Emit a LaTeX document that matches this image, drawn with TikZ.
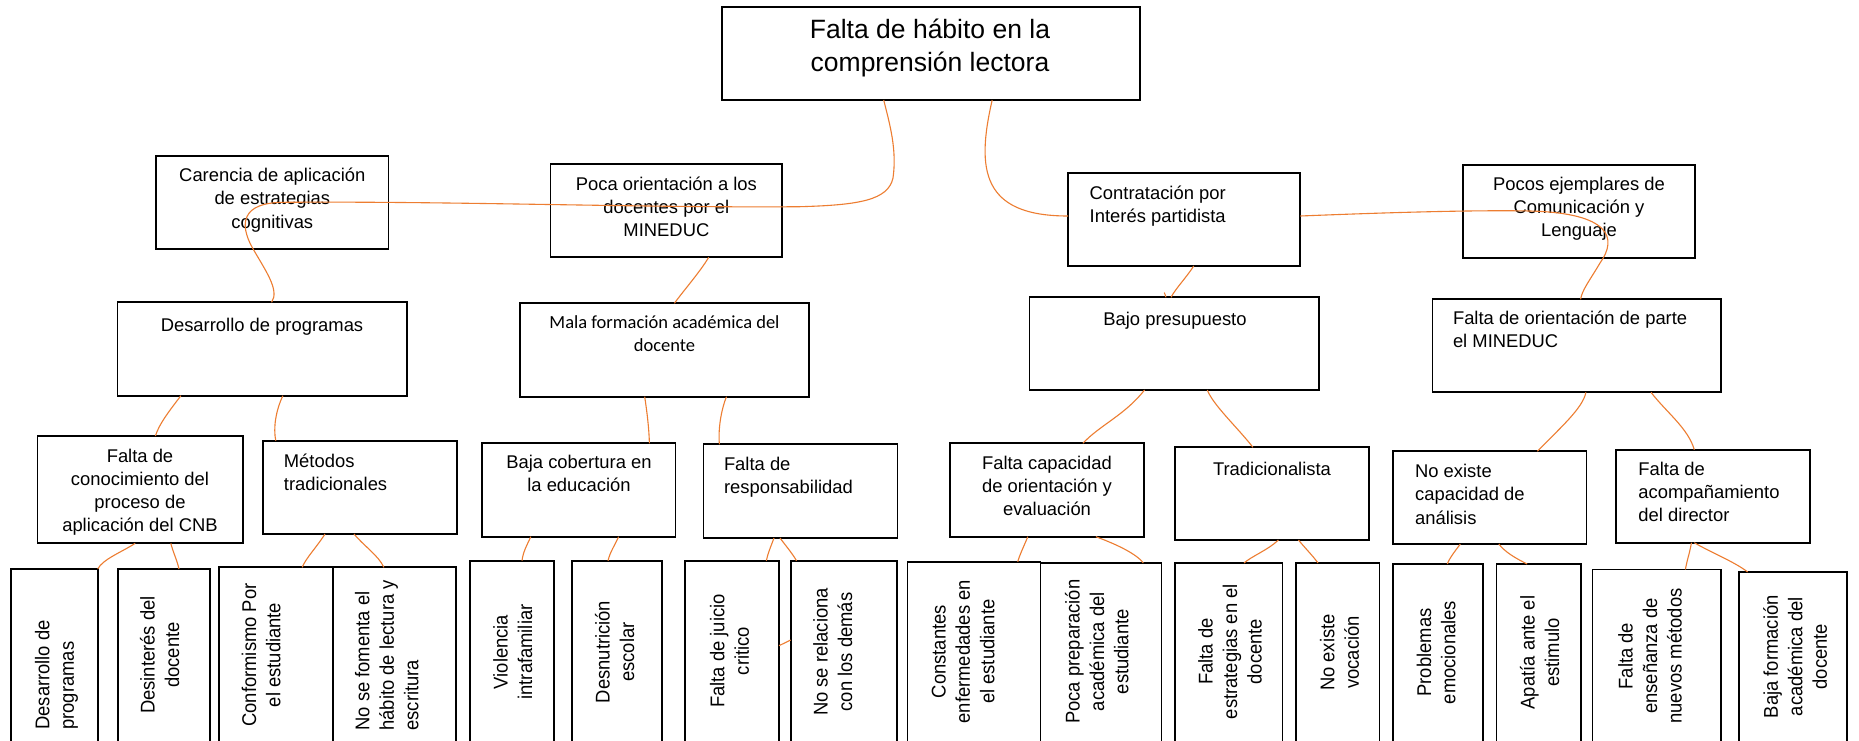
\documentclass[tikz,border=0pt]{standalone}
\usepackage{fontspec}
\setmainfont{Liberation Sans}
\newfontfamily\calibrifont{Carlito}
\usetikzlibrary{fit,calc}
\definecolor{conncol}{RGB}{237,125,49}
\begin{document}
\begin{tikzpicture}[x=0.5pt,y=-0.5pt,
 box/.style={draw=black, line width=0.9pt, inner sep=0pt, outer sep=0pt, fill=white},
 conn/.style={draw=conncol, line width=0.55pt},
 txt/.style={inner sep=0pt, align=center, font=\fontsize{9.2}{11.65}\selectfont, execute at begin node=\strut},
 txtl/.style={txt, align=left, anchor=north west},
 txtc/.style={txt, anchor=north},
 titletxt/.style={inner sep=0pt, align=center, anchor=north, font=\fontsize{13.25}{16.65}\selectfont, execute at begin node=\strut},
 rot/.style={inner sep=0pt, align=center, anchor=north, rotate=90, yscale=1.08, font=\fontsize{9.2}{11.3}\selectfont, execute at begin node=\strut},
 rotl/.style={rot, align=left, anchor=north west},
]
\path[use as bounding box, fill=white] (0,0) rectangle (1859,740);
\clip (0,0) rectangle (1859,740);

% top level
\node[box, fit={(722,7) (1140,100)}] (main) {};
\node[box, fit={(156,156) (388.5,249)}] (car) {};
\node[box, fit={(550.4,164) (782.3,257.3)}] (poca) {};
\node[box, fit={(1068,172.7) (1300.3,266)}] (contr) {};
\node[box, fit={(1462.7,164.7) (1695,258)}] (pocos) {};
% second level
\node[box, fit={(117.4,302.3) (406.9,395.7)}] (desa) {};
\node[box, fit={(519.6,303.3) (809,396.7)}] (mala) {};
\node[box, fit={(1029.5,297.3) (1319.3,390)}] (bajo) {};
\node[box, fit={(1432.4,299.3) (1721,392.3)}] (orient) {};
% third level
\node[box, fit={(37.4,436) (242.6,543.3)}] (conoc) {};
\node[box, fit={(262.7,440.7) (456.7,534)}] (metod) {};
\node[box, fit={(482.2,443.3) (675.5,536.7)}] (cober) {};
\node[box, fit={(703.4,444.3) (897.4,538)}] (resp) {};
\node[box, fit={(950,443.3) (1143.9,536.7)}] (capac) {};
\node[box, fit={(1174.7,447.3) (1369,540)}] (trad) {};
\node[box, fit={(1392.7,451.3) (1586.5,544)}] (noex) {};
\node[box, fit={(1616.1,449.7) (1809.9,542.7)}] (acomp) {};
% bottom level
\node[box, fit={(11,569) (97.7,760)}] (b1) {};
\node[box, fit={(117.7,569) (210,760)}] (b2) {};
\node[box, fit={(219,567.3) (332.7,760)}] (b3) {};
\node[box, fit={(332.7,567.3) (456,760)}] (b4) {};
\node[box, fit={(470,560.7) (554,760)}] (b5) {};
\node[box, fit={(572,560.7) (662,760)}] (b6) {};
\node[box, fit={(685.3,560.7) (779,760)}] (b7) {};
\node[box, fit={(790.7,560.7) (897,760)}] (b8) {};
\node[box, fit={(907.5,561.7) (1040.5,760)}] (b9) {};
\node[box, fit={(1040.5,563) (1161.5,760)}] (b10) {};
\node[box, fit={(1175,563) (1282.5,760)}] (b11) {};
\node[box, fit={(1296,563) (1379.5,760)}] (b12) {};
\node[box, fit={(1393,564) (1482.7,760)}] (b13) {};
\node[box, fit={(1496.5,564) (1580.7,760)}] (b14) {};
\node[box, fit={(1592.5,569.5) (1721,760)}] (b15) {};
\node[box, fit={(1738.7,572) (1847,760)}] (b16) {};

% texts
\node[titletxt] (tmain) at (930,18.4) {Falta de hábito en la\\comprensión lectora};
\node[txtc] (tcar) at (272.3,167.7) {Carencia de aplicación\\de estrategias\\cognitivas};
\node[txtc] (tpoca) at (666.4,176.4) {Poca orientación a los\\docentes por el\\MINEDUC};
\node[txtl] (tcontr) at (1089.3,185.4) {Contratación por\\Interés partidista};
\node[txtc] (tpocos) at (1579,176.4) {Pocos ejemplares de\\Comunicación y\\Lenguaje};
\node[txtc] (tdesa) at (262,314.4) {Desarrollo de programas};
\node[txtc, font=\calibrifont\fontsize{9.25}{11.65}\selectfont] (tmala) at (664.5,315.4) {Mala formación académica del\\docente};
\node[txtc] (tbajo) at (1175,309.2) {Bajo presupuesto};
\node[txtl] (torient) at (1452.6,310.4) {Falta de orientación de parte\\el MINEDUC};
\node[txtc, font=\fontsize{9.2}{11.4}\selectfont] (tconoc) at (140,449) {Falta de\\conocimiento del\\proceso de\\aplicación del CNB};
\node[txtl] (tmetod) at (283.5,453.7) {Métodos\\tradicionales};
\node[txtc] (tcober) at (579,454.7) {Baja cobertura en\\la educación};
\node[txtl] (tresp) at (723.6,456.4) {Falta de\\responsabilidad};
\node[txtc] (tcapac) at (1047,455.4) {Falta capacidad\\de orientación y\\evaluación};
\node[txtc] (ttrad) at (1272,459.2) {Tradicionalista};
\node[txtl] (tnoex) at (1414.7,463.7) {No existe\\capacidad de\\análisis};
\node[txtl] (tacomp) at (1638,461.4) {Falta de\\acompañamiento\\del director};

\node[rotl] (t1) at (34.6,730) {Desarrollo de\\programas};
\node[rot] (t2) at (139.6,655) {Desinterés del\\docente};
\node[rot] (t3) at (241.2,655) {Conformismo Por\\el estudiante};
\node[rotl] (t4) at (354.6,731) {No se fomenta el\\hábito de lectura y\\escritura};
\node[rot] (t5) at (492.9,652) {Violencia\\intrafamiliar};
\node[rot] (t6) at (594.6,652) {Desnutrición\\escolar};
\node[rot] (t7) at (709.6,651) {Falta de juicio\\critico};
\node[rot] (t8) at (812.9,652) {No se relaciona\\con los demás};
\node[rot] (t9) at (931.2,651.7) {Constantes\\enfermedades en\\el estudiante};
\node[rot] (t10) at (1064.6,651.7) {Poca preparación\\académica del\\estudiante};
\node[rot] (t11) at (1197.9,651.7) {Falta de\\estrategias en el\\docente};
\node[rot] (t12) at (1319.6,652.5) {No existe\\vocación};
\node[rot] (t13) at (1416.2,652.5) {Problemas\\emocionales};
\node[rot] (t14) at (1519.6,652.5) {Apatía ante el\\estimulo};
\node[rot] (t15) at (1617.9,656) {Falta de\\enseñanza de\\nuevos métodos};
\node[rot] (t16) at (1762.9,656.7) {Baja formación\\académica del\\docente};

% connectors
\draw[conn] ($(main.south west)+(161.7,0)$) .. controls (890,125) and (897,150) .. (893,178)
  .. controls (888,200) and (860,205) .. (800,206.7)
  .. controls (650,208) and (450,201) .. (285,202.3)
  .. controls (240,202) and (240,225) .. (252,247)
  .. controls (265,270) and (280,290) .. ($(desa.north west)+(154.2,0)$);
\draw[conn] ($(poca.south west)+(158.3,0)$) .. controls (700,272) and (684,290) .. ($(mala.north west)+(154.8,0)$);
\draw[conn] ($(main.south west)+(270.2,0)$) .. controls (976,170) and (982,216) .. ($(contr.north west)+(0,43.3)$);
\draw[conn] ($(contr.north east)+(0,43.3)$) .. controls (1400,212) and (1480,210) .. (1530,211)
  .. controls (1610,213) and (1618,238) .. (1600,263)
  .. controls (1590,280) and (1582,290) .. ($(orient.north west)+(148.2,0)$);
\draw[conn] ($(contr.south west)+(125.7,0)$) .. controls (1186,278) and (1176,288) .. ($(bajo.north west)+(141.5,0)$);
\coordinate (tk) at (1164.3,292.5);
\draw[conn] (tk) -- ($(bajo.north west)+(136.5,0)$);

\draw[conn] ($(desa.south west)+(63.5,0)$) .. controls (170,410) and (159,424) .. ($(conoc.north west)+(118,0)$);
\draw[conn] ($(desa.south west)+(165.5,0)$) .. controls (276,410) and (273,428) .. ($(metod.north west)+(13.1,0)$);
\draw[conn] ($(mala.south west)+(125.1,0)$) .. controls (647,412) and (649,428) .. ($(cober.north west)+(167.2,0)$);
\draw[conn] ($(mala.south west)+(206.9,0)$) .. controls (721,410) and (718,430) .. ($(resp.north west)+(16,0)$);
\draw[conn] ($(bajo.south west)+(115,0)$) .. controls (1125,415) and (1100,425) .. ($(capac.north west)+(132.9,0)$);
\draw[conn] ($(bajo.south west)+(177.8,0)$) .. controls (1213,405) and (1238,428) .. ($(trad.north west)+(78.2,0)$);
\draw[conn] ($(orient.south west)+(153.5,0)$) .. controls (1583,408) and (1560,428) .. ($(noex.north west)+(144.6,0)$);
\draw[conn] ($(orient.south west)+(218.6,0)$) .. controls (1666,412) and (1688,428) .. ($(acomp.north west)+(78.2,0)$);

\draw[conn] ($(conoc.south west)+(97.8,0)$) .. controls (122,552) and (103,559) .. (b1.north east);
\draw[conn] ($(conoc.south west)+(133.4,0)$) .. controls (173,552) and (177,560) .. ($(b2.north west)+(61.3,0)$);
\draw[conn] ($(metod.south west)+(62.3,0)$) .. controls (316,548) and (306,558) .. ($(b3.north west)+(83.2,0)$);
\draw[conn] ($(metod.south west)+(91.3,0)$) .. controls (364,546) and (378,555) .. ($(b4.north west)+(51.2,0)$);
\draw[conn] ($(cober.south west)+(48.6,0)$) .. controls (527,545) and (523,552) .. ($(b5.north west)+(52,0)$);
\draw[conn] ($(cober.south west)+(136.4,0)$) .. controls (615,545) and (610,552) .. ($(b6.north west)+(36,0)$);
\draw[conn] ($(resp.south west)+(70.6,0)$) .. controls (771,546) and (768,553) .. ($(b7.north west)+(81,0)$);
\draw[conn] ($(resp.south west)+(76.6,0)$) .. controls (786,546) and (792,553) .. ($(b8.north west)+(5.8,0)$);
\draw[conn] ($(b7.north east)+(0,85)$) -- ($(b8.north west)+(0,79.3)$);
\draw[conn] ($(capac.south west)+(77.8,0)$) .. controls (1024,546) and (1020,554) .. ($(b9.north west)+(110.2,0)$);
\draw[conn] ($(capac.south west)+(145.9,0)$) .. controls (1110,542) and (1135,552) .. ($(b10.north west)+(102.8,0)$);
\draw[conn] ($(trad.south west)+(103.7,0)$) .. controls (1268,550) and (1252,556) .. ($(b11.north west)+(69,0)$);
\draw[conn] ($(trad.south west)+(123.8,0)$) .. controls (1305,548) and (1313,556) .. ($(b12.north west)+(22,0)$);
\draw[conn] ($(noex.south west)+(67.6,0)$) .. controls (1456,550) and (1450,557) .. ($(b13.north west)+(54.3,0)$);
\draw[conn] ($(noex.south west)+(106.1,0)$) .. controls (1505,552) and (1515,558) .. ($(b14.north west)+(30.7,0)$);
\draw[conn] ($(acomp.south west)+(75.3,0)$) .. controls (1690,552) and (1687,560) .. ($(b15.north west)+(92.9,0)$);
\draw[conn] ($(acomp.south west)+(78.2,0)$) .. controls (1710,552) and (1735,562) .. ($(b16.north west)+(8.9,0)$);
\end{tikzpicture}
\end{document}
